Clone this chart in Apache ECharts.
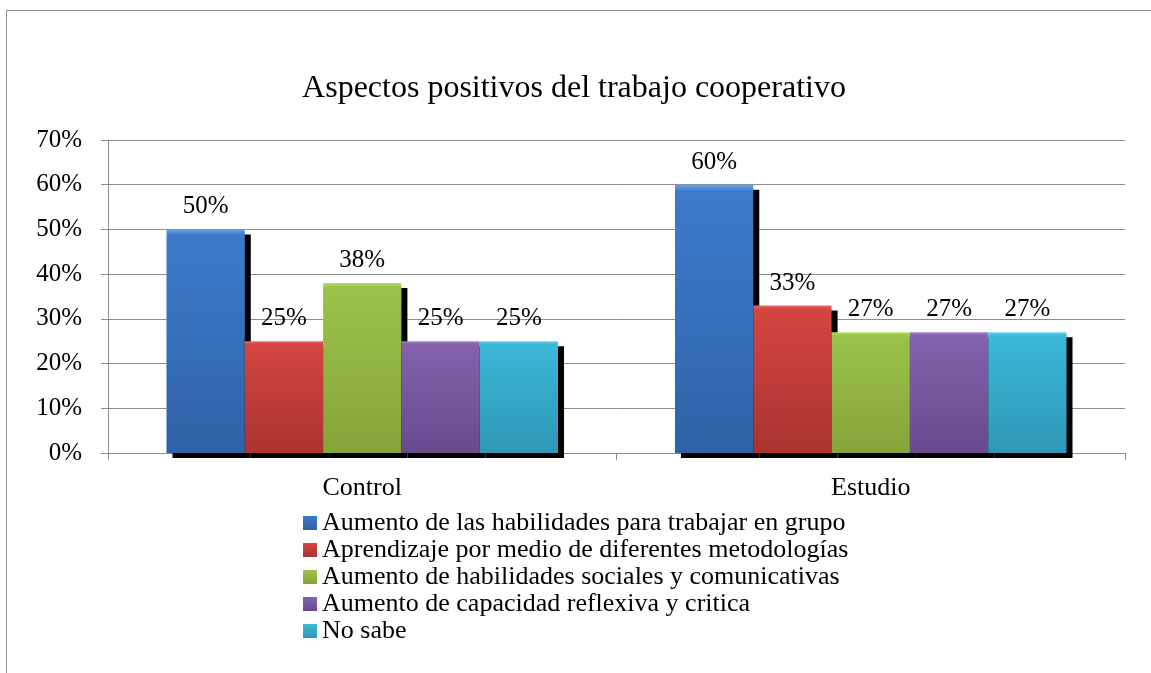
<!DOCTYPE html>
<html>
<head>
<meta charset="utf-8">
<script src="https://cdn.jsdelivr.net/npm/echarts@6/dist/echarts.min.js"></script>
<style>
  html, body { margin: 0; padding: 0; background: #fff; }
  #main { width: 1151px; height: 673px; }
</style>
</head>
<body>
<div id="main"></div>
<script>
var categories = ["Control", "Estudio"];
var seriesNames = [
  "Aumento de las habilidades para trabajar en grupo",
  "Aprendizaje por medio de diferentes metodologías",
  "Aumento de habilidades sociales y comunicativas",
  "Aumento de capacidad reflexiva y critica",
  "No sabe"
];
var habilidadesGrupo = [50, 60];
var metodologias = [25, 33];
var sociales = [38, 27];
var reflexiva = [25, 27];
var noSabe = [25, 27];

// colores: [claro, medio, oscuro]
var palette = [
  ["#6aa3e6", "#3c7bcb", "#2f62a6"],
  ["#ea6c68", "#d44541", "#aa3330"],
  ["#bde06a", "#9cc24a", "#84a53a"],
  ["#a585cc", "#8461ad", "#684a8d"],
  ["#6fd6f0", "#3bb7d8", "#2e97b5"]
];

var font = "'Liberation Serif', 'Times New Roman', serif";
var valores = [habilidadesGrupo, metodologias, sociales, reflexiva, noSabe];

var myChart = echarts.init(document.getElementById("main"));

var series = valores.map(function (data, i) {
  var c = palette[i];
  return {
    name: seriesNames[i],
    type: "bar",
    data: data,
    barGap: 0,
    barCategoryGap: "23%",
    itemStyle: {
      color: new echarts.graphic.LinearGradient(0, 0, 0, 1, [
        { offset: 0, color: c[0] },
        { offset: 0.025, color: c[1] },
        { offset: 1, color: c[2] }
      ]),
      shadowColor: "#000",
      shadowBlur: 0,
      shadowOffsetX: 6,
      shadowOffsetY: 5
    },
    label: {
      show: true,
      position: "top",
      distance: 10,
      color: "#000",
      fontFamily: font,
      fontSize: 25,
      formatter: "{c}%"
    },
    emphasis: { disabled: true }
  };
});

var option = {
  animation: false,
  backgroundColor: "#fff",
  title: {
    text: "Aspectos positivos del trabajo cooperativo",
    left: 569,
    top: 68,
    textAlign: "center",
    textStyle: {
      color: "#000",
      fontFamily: font,
      fontWeight: "normal",
      fontSize: 32
    }
  },
  graphic: [
    {
      type: "rect",
      shape: { x: 6.5, y: 10.5, width: 1300, height: 800 },
      style: { fill: "none", stroke: "#8c8c8c", lineWidth: 1 },
      silent: true
    }
  ],
  legend: {
    orient: "vertical",
    left: 298,
    top: 505,
    itemWidth: 14,
    itemHeight: 14,
    itemGap: 1,
    textStyle: {
      color: "#000",
      fontFamily: font,
      fontSize: 26
    },
    data: seriesNames.map(function (n) {
      return { name: n, icon: "rect" };
    })
  },
  grid: {
    left: 108,
    right: 26,
    top: 140,
    bottom: 220
  },
  xAxis: {
    type: "category",
    data: categories,
    axisLine: { lineStyle: { color: "#8c8c8c" } },
    axisTick: { show: true, length: 7, lineStyle: { color: "#8c8c8c" } },
    axisLabel: {
      color: "#000",
      fontFamily: font,
      fontSize: 26,
      margin: 22
    }
  },
  yAxis: {
    type: "value",
    min: 0,
    max: 70,
    interval: 10,
    axisLine: { show: true, lineStyle: { color: "#8c8c8c" } },
    axisTick: { show: true, length: 7, lineStyle: { color: "#8c8c8c" } },
    splitLine: { lineStyle: { color: "#8c8c8c" } },
    axisLabel: {
      color: "#000",
      fontFamily: font,
      fontSize: 25,
      margin: 26,
      formatter: "{value}%"
    }
  },
  series: series
};

myChart.setOption(option);
</script>
</body>
</html>
